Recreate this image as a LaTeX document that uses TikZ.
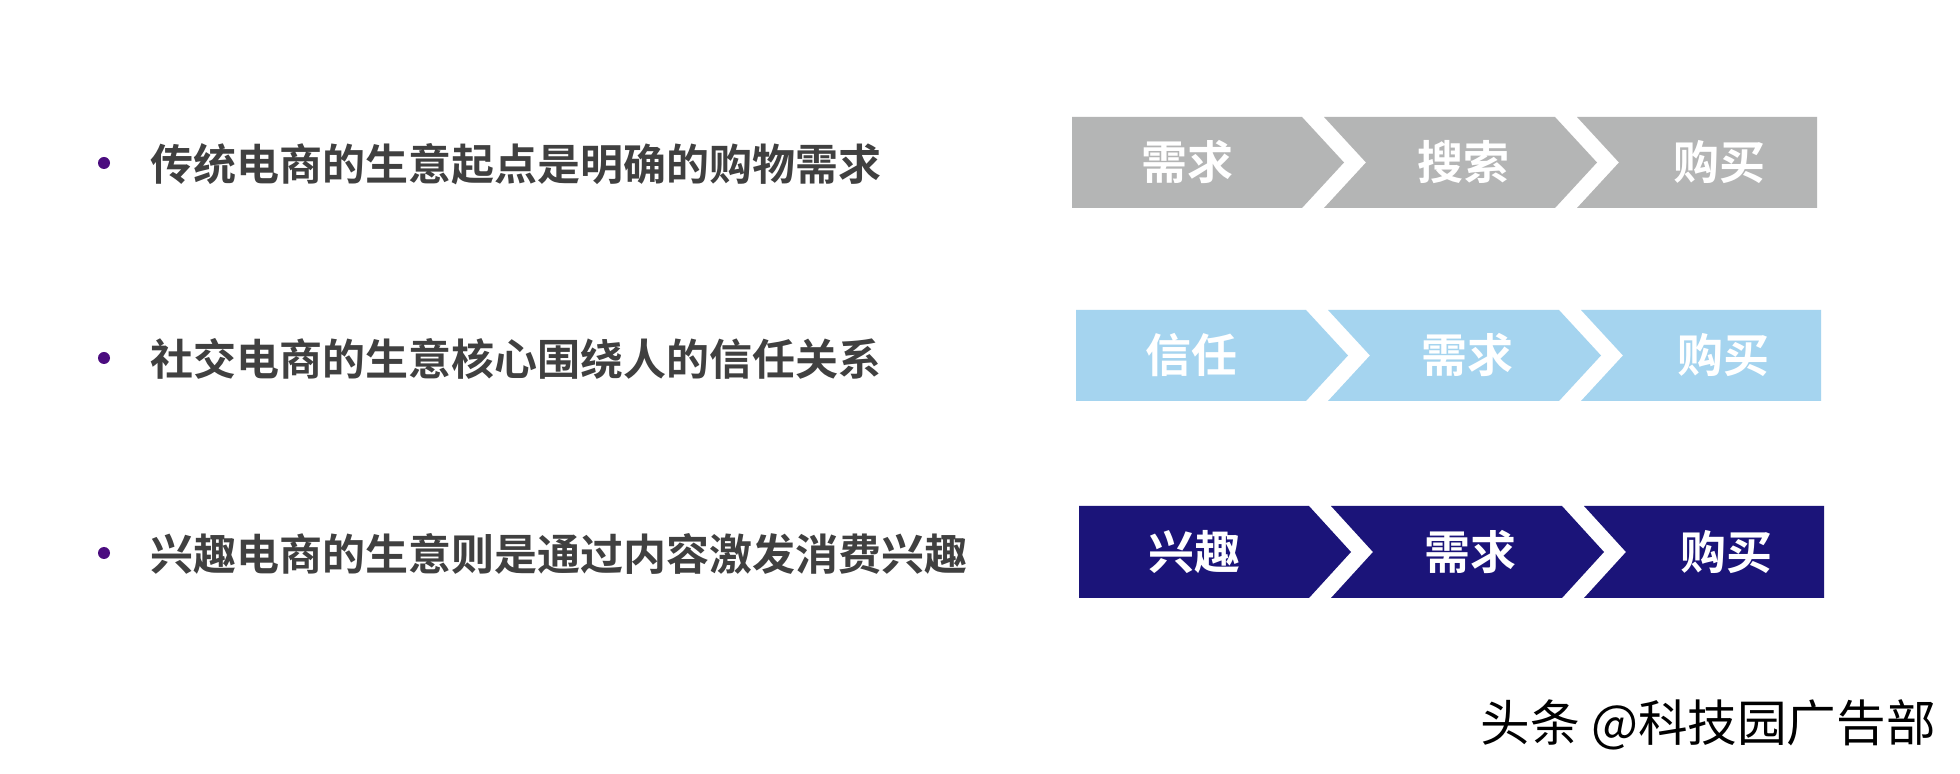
\documentclass[tikz,border=0pt]{standalone}
\usepackage{fontspec}
\newfontfamily\cjk{Noto Sans CJK SC}
\newfontfamily\cjkbold{Noto Sans CJK SC Bold}
\definecolor{graybox}{RGB}{180,181,181}
\definecolor{lightblue}{RGB}{165,212,239}
\definecolor{navybox}{RGB}{27,20,121}
\definecolor{bodytext}{RGB}{64,64,64}
\definecolor{bulletpurple}{RGB}{75,12,127}
\tikzset{
  lefttext/.style={anchor=west,inner sep=0pt,text=bodytext,font=\cjkbold\fontsize{21.5}{26}\selectfont},
  boxlabel/.style={inner sep=0pt,text=white,font=\cjkbold\fontsize{23}{28}\selectfont},
  bulletdot/.style={fill=bulletpurple},
  credit/.style={anchor=east,inner sep=0pt,text=black,font=\cjk\fontsize{24.8}{29}\selectfont}
}
% #1 name prefix, #2 left x, #3 top y, #4 bottom y, #5 colour, #6 #7 #8 labels
\newcommand\chevrow[8]{%
  \pgfmathsetmacro\ym{(#3+#4)/2}%
  \fill[#5] (#2,#3) -- ({#2+230},#3) -- ({#2+272},\ym) -- ({#2+230},#4) -- (#2,#4) -- cycle;
  \fill[#5] ({#2+252},#3) -- ({#2+483},#3) -- ({#2+525},\ym) -- ({#2+483},#4) -- ({#2+252},#4) -- ({#2+294},\ym) -- cycle;
  \fill[#5] ({#2+505},#3) -- ({#2+745},#3) -- ({#2+745},#4) -- ({#2+505},#4) -- ({#2+547},\ym) -- cycle;
  \node[boxlabel] (#1a) at ({#2+115},\ym) {#6};
  \node[boxlabel] (#1b) at ({#2+391},\ym) {#7};
  \node[boxlabel] (#1c) at ({#2+647},\ym) {#8};
}
\begin{document}
\begin{tikzpicture}[x=0.5pt,y=-0.5pt]
\useasboundingbox (0,0) rectangle (1960,774);
\fill[white] (0,0) rectangle (1960,774);
% bullets and texts
\fill[bulletdot] (104,163) circle[radius=3pt];
\node[lefttext] (t1) at (150,164) {传统电商的生意起点是明确的购物需求};
\fill[bulletdot] (104,358) circle[radius=3pt];
\node[lefttext] (t2) at (150,359) {社交电商的生意核心围绕人的信任关系};
\fill[bulletdot] (104,553) circle[radius=3pt];
\node[lefttext] (t3) at (150,554) {兴趣电商的生意则是通过内容激发消费兴趣};
% chevron rows
\chevrow{r1}{1072}{117}{208}{graybox}{需求}{搜索}{购买}
\chevrow{r2}{1076}{310}{401}{lightblue}{信任}{需求}{购买}
\chevrow{r3}{1079}{506}{598}{navybox}{兴趣}{需求}{购买}
% credit
\node[credit] (credit) at (1936,725) {头条 @科技园广告部};
\end{tikzpicture}
\end{document}
